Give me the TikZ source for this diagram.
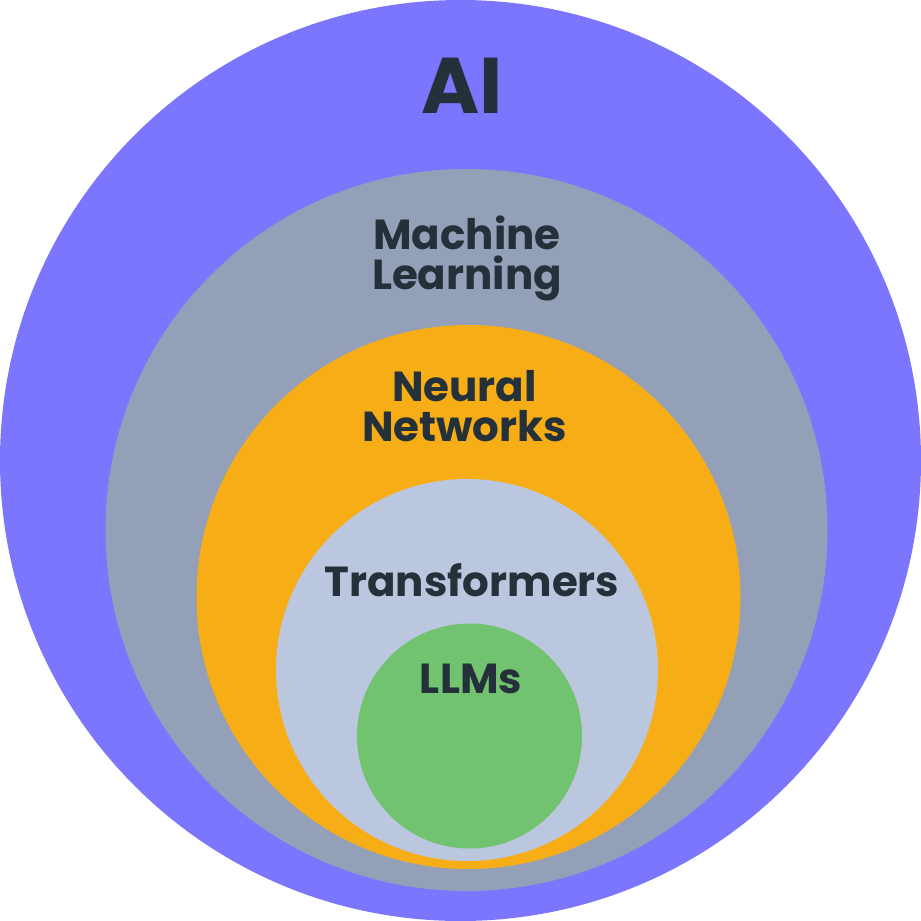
\documentclass[tikz,border=0pt]{standalone}
\usepackage{fontspec}
\setmainfont{Poppins}[UprightFont=* Bold]
\definecolor{aic}{HTML}{7C75FE}
\definecolor{mlc}{HTML}{949FB8}
\definecolor{nnc}{HTML}{F7AE16}
\definecolor{trc}{HTML}{BBC6DF}
\definecolor{llc}{HTML}{72C36F}
\definecolor{txc}{HTML}{25313A}
\begin{document}
\begin{tikzpicture}[x=1pt,y=-1pt,
  ring/.style={circle,inner sep=0pt,outer sep=0pt,draw=none},
  lab/.style={anchor=base,inner sep=0pt,text=txc,font=\fontsize{42}{42}\selectfont}]
\useasboundingbox (0,0) rectangle (921,921);
\node[ring,fill=aic,minimum size=921pt] (ai) at (460.5,460.5) {};
\node[ring,fill=mlc,minimum size=722pt] (ml) at (466.5,530) {};
\node[ring,fill=nnc,minimum size=544pt] (nn) at (468.5,597) {};
\node[ring,fill=trc,minimum size=382pt] (tr) at (467,670) {};
\node[ring,fill=llc,minimum size=225pt] (ll) at (469.5,736) {};
\node[lab,font=\fontsize{79}{79}\selectfont] (tai) at (462,113) {AI};
\node[lab] (tml1) at (467,249) {Machine};
\node[lab] (tml2) at (467,289) {Learning};
\node[lab] (tnn1) at (464.5,401) {Neural};
\node[lab] (tnn2) at (464.5,441) {Networks};
\node[lab] (ttr) at (472,596) {Transformers};
\node[lab] (tll) at (471,693) {LLMs};
\end{tikzpicture}
\end{document}
